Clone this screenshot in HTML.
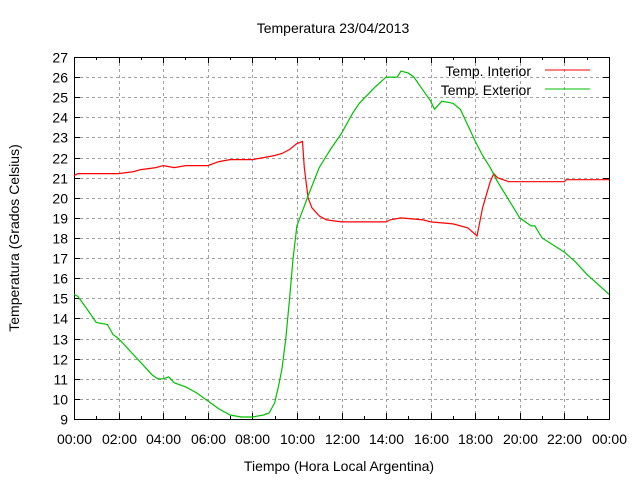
<!DOCTYPE html>
<html><head><meta charset="utf-8"><style>
body{margin:0;background:#fff}
svg{font-family:"Liberation Sans",sans-serif}
</style></head><body>
<svg id="c" width="640" height="480" xmlns="http://www.w3.org/2000/svg">
<rect width="640" height="480" fill="#fff"/>
<g id="grid"></g>
<g id="axes"></g>
<g id="series"></g>
<text x="333" y="33" text-anchor="middle" font-size="14">Temperatura 23/04/2013</text>
<text x="339" y="471" text-anchor="middle" font-size="14">Tiempo (Hora Local Argentina)</text>
<text transform="translate(19,238) rotate(-90)" text-anchor="middle" font-size="14">Temperatura (Grados Celsius)</text>
<g>
<text x="531" y="76" text-anchor="end" font-size="14">Temp. Interior</text>
<line x1="545" y1="70" x2="590" y2="70" stroke="#ff0000"/>
<text x="531" y="95" text-anchor="end" font-size="14">Temp. Exterior</text>
<line x1="545" y1="89" x2="590" y2="89" stroke="#00c000"/>
</g>
</svg>
<script>
const yTicks=[9,10,11,12,13,14,15,16,17,18,19,20,21,22,23,24,25,26,27];
const xTickLabels=["00:00","02:00","04:00","06:00","08:00","10:00","12:00","14:00","16:00","18:00","20:00","22:00","00:00"];
const intHours=[0,0.17,2,2.67,3,3.67,4,4.5,5,6,6.5,7,8,8.5,9,9.33,9.67,10,10.25,10.33,10.5,10.67,11,11.33,12,14,14.17,14.67,15.67,16,17,17.67,18.08,18.33,18.67,18.83,19,19.5,22,22.08,24];
const intTemps=[21.1,21.2,21.2,21.3,21.4,21.5,21.6,21.5,21.6,21.6,21.8,21.9,21.9,22.0,22.1,22.2,22.4,22.7,22.8,21.5,20.0,19.5,19.1,18.9,18.8,18.8,18.9,19.0,18.9,18.8,18.7,18.5,18.1,19.5,20.8,21.2,21.0,20.8,20.8,20.9,20.9];
const extHours=[0,0.17,0.5,0.75,1,1.5,1.75,2,2.5,3,3.5,3.75,4,4.25,4.5,5,5.5,6,6.5,7,7.5,8,8.5,8.75,9,9.17,9.33,9.5,9.67,9.83,10,10.5,11,11.5,12,12.5,12.8,13.5,14,14.5,14.67,15,15.25,15.5,16,16.17,16.5,17,17.33,17.67,18,18.33,18.67,19,19.5,20,20.5,20.67,21,22,22.5,23,23.5,24];
const extTemps=[15.2,15.1,14.6,14.2,13.8,13.7,13.2,13.0,12.4,11.8,11.2,11.0,11.0,11.1,10.8,10.6,10.3,9.9,9.5,9.2,9.1,9.1,9.2,9.3,9.8,10.6,11.5,13.0,15.0,17.0,18.6,20.1,21.5,22.4,23.2,24.2,24.7,25.5,26.0,26.0,26.3,26.2,26.0,25.6,24.8,24.4,24.8,24.7,24.4,23.6,22.8,22.1,21.5,20.8,19.9,19.0,18.6,18.6,18.0,17.3,16.8,16.2,15.7,15.2];
const L=74,R=609,T=57,B=419;
const xs=h=>L+(R-L)*h/24;
const ys=v=>B-(B-T)*(v-9)/18;
const NS="http://www.w3.org/2000/svg";
const grid=document.getElementById('grid'),axes=document.getElementById('axes'),ser=document.getElementById('series');
function mk(tag,attrs,parent){const e=document.createElementNS(NS,tag);for(const k in attrs)e.setAttribute(k,attrs[k]);parent.appendChild(e);return e;}
yTicks.forEach(v=>{
 const y=Math.round(ys(v))+0.5;
 if(v>9&&v<27){const g=mk('line',{x1:L,x2:R,y1:y,y2:y,stroke:'#a0a0a0','stroke-dasharray':'3,3'},grid);
 
 }
 mk('line',{x1:L,x2:L+6,y1:y,y2:y,stroke:'#000'},axes);
 mk('line',{x1:R-6,x2:R,y1:y,y2:y,stroke:'#000'},axes);
 const t=mk('text',{x:L-6,y:y+5,'text-anchor':'end','font-size':14},axes);
 t.textContent=v;
 
 
});
xTickLabels.forEach((lab,i)=>{
 const x=Math.round(xs(i*2))+0.5;
 if(i>0&&i<12){const g=mk('line',{x1:x,x2:x,y1:T,y2:B,stroke:'#a0a0a0','stroke-dasharray':'3,3'},grid);
 
 }
 mk('line',{x1:x,x2:x,y1:B,y2:B-6,stroke:'#000'},axes);
 mk('line',{x1:x,x2:x,y1:T,y2:T+6,stroke:'#000'},axes);
 if(i<12){const xm=Math.round(xs(i*2+1))+0.5;
 mk('line',{x1:xm,x2:xm,y1:B,y2:B-3,stroke:'#000'},axes);
 mk('line',{x1:xm,x2:xm,y1:T,y2:T+3,stroke:'#000'},axes);}
 const t=mk('text',{x:x,y:B+25,'text-anchor':'middle','font-size':14},axes);
 t.textContent=lab;
 
 
});
const frame=mk('rect',{x:L+0.5,y:T+0.5,width:R-L,height:B-T,fill:'none',stroke:'#000'},axes);


function linePath(hs,vs){return hs.map((h,i)=>(i?'L':'M')+xs(h).toFixed(1)+','+ys(vs[i]).toFixed(1)).join('');}
const p1=mk('path',{d:linePath(intHours,intTemps),fill:'none',stroke:'#ff0000','stroke-width':1.2},ser);


const p2=mk('path',{d:linePath(extHours,extTemps),fill:'none',stroke:'#00c000','stroke-width':1.2},ser);


</script>
</body></html>
